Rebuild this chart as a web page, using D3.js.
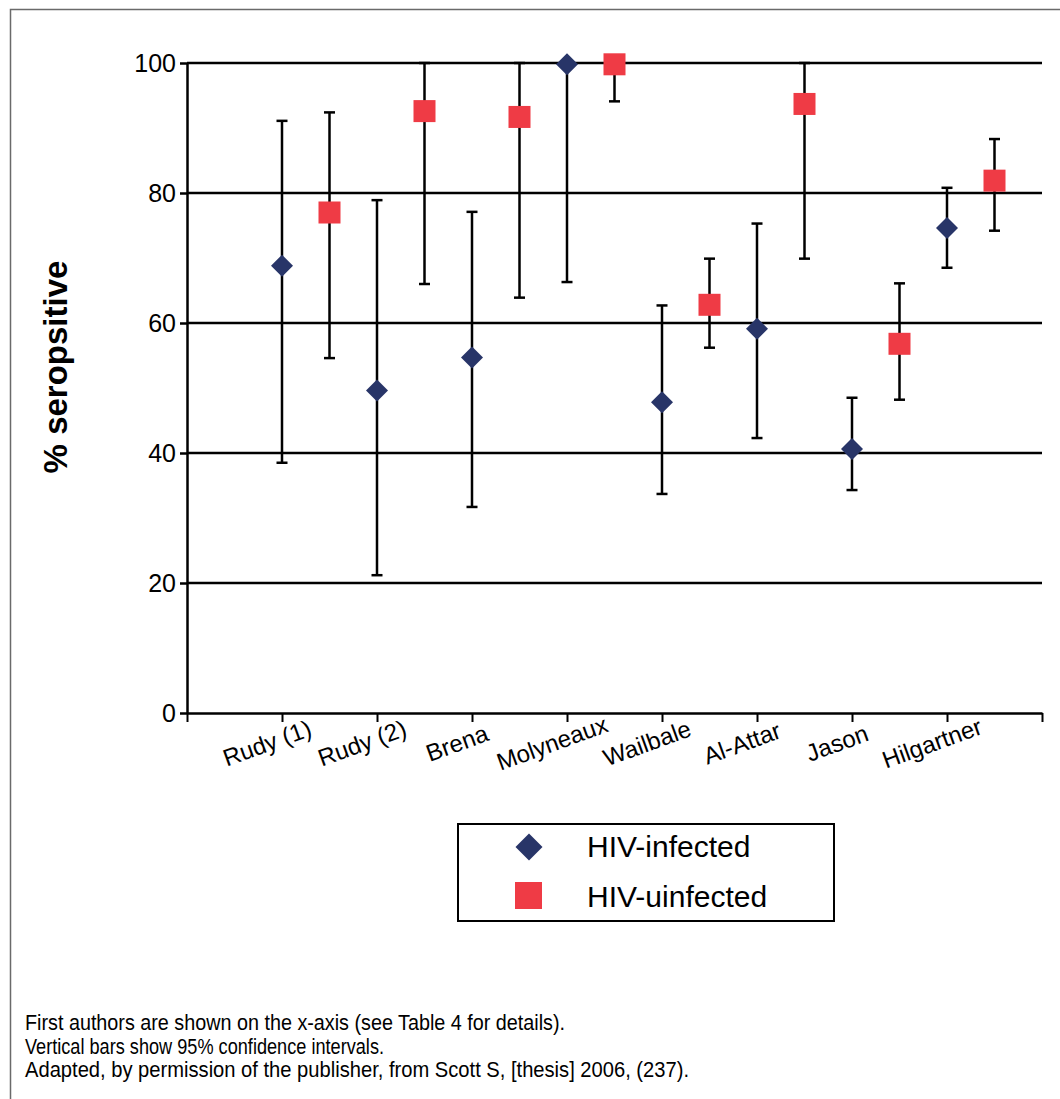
<!DOCTYPE html>
<html>
<head>
<meta charset="utf-8">
<script src="https://cdn.jsdelivr.net/npm/d3@7"></script>
<style>
  body { margin: 0; background: #fff; }
  text { font-family: "Liberation Sans", Arial, sans-serif; fill: #000; }
</style>
</head>
<body>
<div id="chart"></div>
<script>
// first authors on the x-axis
const studies = ["Rudy (1)", "Rudy (2)", "Brena", "Molyneaux", "Wailbale", "Al-Attar", "Jason", "Hilgartner"];

// % seropositive with 95% CI
const infected = [68.8, 49.6, 54.7, 99.8, 47.8, 59.1, 40.6, 74.6];
const infectedLow = [38.5, 21.2, 31.7, 66.3, 33.7, 42.3, 34.3, 68.5];
const infectedHigh = [91.1, 78.9, 77.1, 100, 62.7, 75.3, 48.5, 80.8];

const uninfected = [77.0, 92.6, 91.7, 99.8, 62.8, 93.7, 56.8, 81.9];
const uninfectedLow = [54.6, 66.0, 63.9, 94.1, 56.2, 69.9, 48.2, 74.2];
const uninfectedHigh = [92.4, 100, 100, 100, 69.9, 100, 66.1, 88.3];

const yTicks = [0, 20, 40, 60, 80, 100];

const footnotes = [
    "First authors are shown on the x-axis (see Table 4 for details).",
    "Vertical bars show 95% confidence intervals.",
    "Adapted, by permission of the publisher, from Scott S, [thesis] 2006, (237)."
];
const footWidths = [540, 359, 664];

const W = 1060, H = 1099;
const margin = {top: 63, right: 18, bottom: 386, left: 187},
    width = W - margin.left - margin.right,
    height = H - margin.top - margin.bottom;

const colInf = "#283568", colUninf = "#ef3b45";

const root = d3.select("#chart")
    .append("svg")
    .attr("width", W)
    .attr("height", H);

root.append("rect").attr("width", W).attr("height", H).attr("fill", "#fff");

// outer frame (only left and top visible in the picture)
root.append("path")
    .attr("d", `M10.5,${H} V9.5 H${W}`)
    .attr("fill", "none")
    .attr("stroke", "#6a6a6a")
    .attr("stroke-width", 1.5);

const svg = root.append("g")
    .attr("transform", `translate(${margin.left}, ${margin.top})`);

// one slot per study, infected on the tick, uninfected half-way to the next
const x = d3.scaleLinear()
    .domain([0, studies.length + 1])
    .range([0, width]);

const y = d3.scaleLinear()
    .domain([0, 100])
    .range([height, 0]);

// gridlines
svg.append("g")
    .selectAll("line")
    .data(yTicks.filter(d => d > 0))
    .enter()
    .append("line")
    .attr("x1", 0)
    .attr("x2", width)
    .attr("y1", d => y(d))
    .attr("y2", d => y(d))
    .attr("stroke", "#000")
    .attr("stroke-width", 2.5);

// X axis
const xAxis = svg.append("g")
    .attr("transform", `translate(0, ${height})`)
    .call(d3.axisBottom(x)
        .tickValues(d3.range(studies.length + 2))
        .tickFormat("")
        .tickSize(9)
        .tickSizeOuter(0));
xAxis.select(".domain").attr("stroke-width", 2.5);
xAxis.selectAll(".tick line").attr("stroke-width", 2);

// Y axis
const yAxis = svg.append("g")
    .call(d3.axisLeft(y)
        .tickValues(yTicks)
        .tickSize(7)
        .tickSizeOuter(0)
        .tickPadding(4));
yAxis.select(".domain").attr("stroke-width", 2.5);
yAxis.selectAll(".tick line").attr("stroke-width", 2.5);
yAxis.selectAll(".tick text")
    .style("font-family", "'Liberation Sans', Arial, sans-serif")
    .style("font-size", "25px")
    .attr("fill", "#000");

// category labels, tilted
svg.append("g")
    .selectAll("text")
    .data(studies)
    .enter()
    .append("text")
    .attr("transform", (d, i) => `translate(${x(i + 1) - 15}, ${height + 30}) rotate(-20)`)
    .attr("text-anchor", "middle")
    .attr("dominant-baseline", "central")
    .style("font-size", "24px")
    .text(d => d);

// y label
root.append("text")
    .attr("transform", "translate(55, 367) rotate(-90)")
    .attr("text-anchor", "middle")
    .attr("dominant-baseline", "central")
    .style("font-size", "33px")
    .style("font-weight", "bold")
    .text("% seropsitive");

// error bars
function errorBars(lo, hi, off) {
    const g = svg.append("g").attr("stroke", "#000").attr("stroke-width", 2.5);
    const cap = 5.5;
    studies.forEach((s, i) => {
        const cx = x(i + 1 + off);
        g.append("line").attr("x1", cx).attr("x2", cx).attr("y1", y(lo[i])).attr("y2", y(hi[i]));
        g.append("line").attr("x1", cx - cap).attr("x2", cx + cap).attr("y1", y(lo[i])).attr("y2", y(lo[i]));
        g.append("line").attr("x1", cx - cap).attr("x2", cx + cap).attr("y1", y(hi[i])).attr("y2", y(hi[i]));
    });
}
errorBars(infectedLow, infectedHigh, 0);
errorBars(uninfectedLow, uninfectedHigh, 0.5);

// markers
const diamond = d3.symbol().type(d3.symbolSquare).size(242);
svg.append("g")
    .selectAll("path")
    .data(infected)
    .enter()
    .append("path")
    .attr("d", diamond)
    .attr("transform", (d, i) => `translate(${x(i + 1)}, ${y(d)}) rotate(45)`)
    .attr("fill", colInf);

const sq = 22;
svg.append("g")
    .selectAll("rect")
    .data(uninfected)
    .enter()
    .append("rect")
    .attr("x", (d, i) => x(i + 1.5) - sq / 2)
    .attr("y", d => y(d) - sq / 2)
    .attr("width", sq)
    .attr("height", sq)
    .attr("fill", colUninf);

// legend
const legend = root.append("g").attr("transform", "translate(458, 824)");
legend.append("rect")
    .attr("width", 376)
    .attr("height", 97)
    .attr("fill", "#fff")
    .attr("stroke", "#000")
    .attr("stroke-width", 2);
legend.append("path")
    .attr("d", d3.symbol().type(d3.symbolSquare).size(365))
    .attr("transform", "translate(71, 23) rotate(45)")
    .attr("fill", colInf);
legend.append("rect")
    .attr("x", 57).attr("y", 58)
    .attr("width", 27).attr("height", 27)
    .attr("fill", colUninf);
legend.append("text")
    .attr("x", 129).attr("y", 33)
    .style("font-size", "30px")
    .text("HIV-infected");
legend.append("text")
    .attr("x", 129).attr("y", 83)
    .style("font-size", "30px")
    .text("HIV-uinfected");

// footnotes
root.append("g")
    .selectAll("text")
    .data(footnotes)
    .enter()
    .append("text")
    .attr("x", 25)
    .attr("y", (d, i) => 1030 + i * 23.5)
    .attr("textLength", (d, i) => footWidths[i])
    .attr("lengthAdjust", "spacingAndGlyphs")
    .style("font-size", "22px")
    .attr("fill", "#222")
    .text(d => d);
</script>
</body>
</html>
